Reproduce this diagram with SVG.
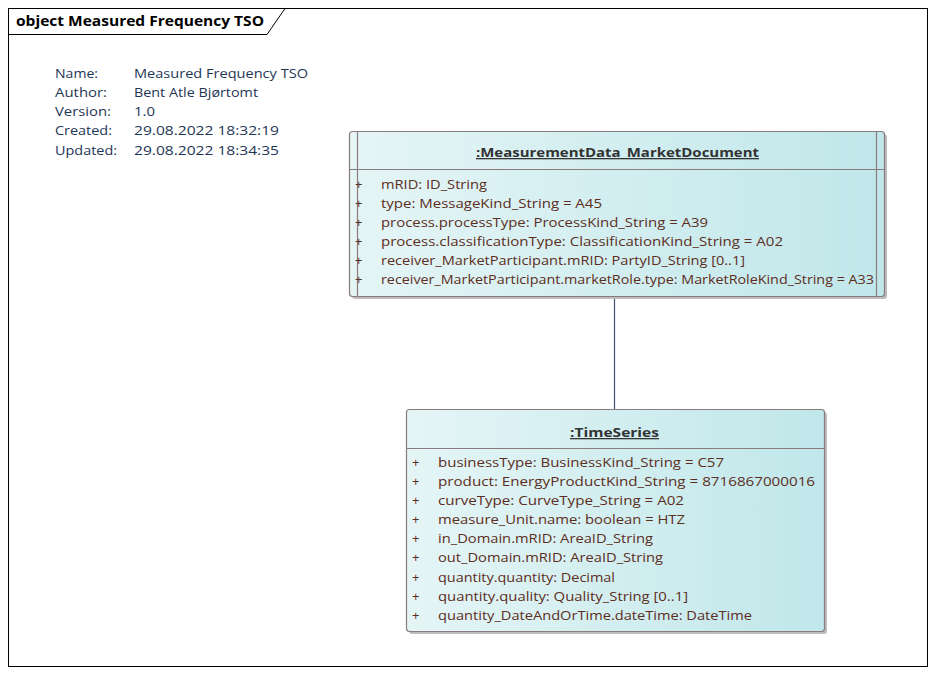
<svg xmlns="http://www.w3.org/2000/svg" width="936" height="675" viewBox="0 0 936 675">
<style>
text{font-family:"Open Sans","Noto Sans","DejaVu Sans",sans-serif;font-size:13px}
.meta{fill:#1e3656}
.hdr{font-weight:bold;fill:#333333;text-decoration:underline}
.attr{fill:#5c2e22}
.box{fill:url(#g);stroke:#8a7c7e;stroke-width:1.2}
.sep{stroke:#8a7c7e;stroke-width:1.2}
.shadow{fill:#bdbdbd}
</style>
<defs>
<linearGradient id="g" x1="0" y1="0" x2="1" y2="0">
<stop offset="0" stop-color="#e5f5f6"/>
<stop offset="1" stop-color="#c0e7ea"/>
</linearGradient>
</defs>
<rect x="0" y="0" width="936" height="675" fill="#ffffff"/>
<g id="frame">
<rect x="8.5" y="8.5" width="919" height="658" fill="none" stroke="#000000" stroke-width="1"/>
<path d="M8.5 34.5 H267 L285 8.5" fill="none" stroke="#000000" stroke-width="1"/>
<text x="16" y="26" textLength="248" lengthAdjust="spacingAndGlyphs" style="font-weight:bold;fill:#000000;font-size:14px">object Measured Frequency TSO</text>
</g>
<g id="metadata">
<text class="meta" x="55" y="78" textLength="43" lengthAdjust="spacingAndGlyphs">Name:</text>
<text class="meta" x="55" y="97" textLength="52" lengthAdjust="spacingAndGlyphs">Author:</text>
<text class="meta" x="55" y="116" textLength="56" lengthAdjust="spacingAndGlyphs">Version:</text>
<text class="meta" x="55" y="135" textLength="57" lengthAdjust="spacingAndGlyphs">Created:</text>
<text class="meta" x="55" y="155" textLength="62" lengthAdjust="spacingAndGlyphs">Updated:</text>
<text class="meta" x="134" y="78" textLength="174" lengthAdjust="spacingAndGlyphs">Measured Frequency TSO</text>
<text class="meta" x="134" y="97" textLength="124" lengthAdjust="spacingAndGlyphs">Bent Atle Bjørtomt</text>
<text class="meta" x="134" y="116" textLength="21" lengthAdjust="spacingAndGlyphs">1.0</text>
<text class="meta" x="134" y="135" textLength="145" lengthAdjust="spacingAndGlyphs">29.08.2022 18:32:19</text>
<text class="meta" x="134" y="155" textLength="145" lengthAdjust="spacingAndGlyphs">29.08.2022 18:34:35</text>
</g>
<g id="connectors">
<line x1="614.5" y1="296" x2="614.5" y2="409" stroke="#3f4f72" stroke-width="1.2"/>
</g>
<g id="MeasurementData_MarketDocument">
<rect class="shadow" x="352" y="134" width="535" height="165" rx="3"/>
<rect class="box" x="349.5" y="131.5" width="535" height="165" rx="3"/>
<line class="sep" x1="357.5" y1="131.5" x2="357.5" y2="296.5"/>
<line class="sep" x1="876.5" y1="131.5" x2="876.5" y2="296.5"/>
<line class="sep" x1="349.5" y1="169.5" x2="884.5" y2="169.5"/>
<text class="hdr" x="476" y="157" textLength="283" lengthAdjust="spacingAndGlyphs">:MeasurementData_MarketDocument</text>
<text class="attr" x="355" y="189">+</text>
<text class="attr" x="355" y="208">+</text>
<text class="attr" x="355" y="227">+</text>
<text class="attr" x="355" y="246">+</text>
<text class="attr" x="355" y="265">+</text>
<text class="attr" x="355" y="284">+</text>
<text class="attr" x="381" y="189" textLength="106" lengthAdjust="spacingAndGlyphs">mRID: ID_String</text>
<text class="attr" x="381" y="208" textLength="221" lengthAdjust="spacingAndGlyphs">type: MessageKind_String = A45</text>
<text class="attr" x="381" y="227" textLength="327" lengthAdjust="spacingAndGlyphs">process.processType: ProcessKind_String = A39</text>
<text class="attr" x="381" y="246" textLength="402" lengthAdjust="spacingAndGlyphs">process.classificationType: ClassificationKind_String = A02</text>
<text class="attr" x="381" y="265" textLength="364" lengthAdjust="spacingAndGlyphs">receiver_MarketParticipant.mRID: PartyID_String [0..1]</text>
<text class="attr" x="381" y="284" textLength="493" lengthAdjust="spacingAndGlyphs">receiver_MarketParticipant.marketRole.type: MarketRoleKind_String = A33</text>
</g>
<g id="TimeSeries">
<rect class="shadow" x="409" y="412" width="418" height="222" rx="3"/>
<rect class="box" x="406.5" y="409.5" width="418" height="222" rx="3"/>
<line class="sep" x1="406.5" y1="448.5" x2="824.5" y2="448.5"/>
<text class="hdr" x="570" y="437" textLength="89" lengthAdjust="spacingAndGlyphs">:TimeSeries</text>
<text class="attr" x="412" y="467">+</text>
<text class="attr" x="412" y="486">+</text>
<text class="attr" x="412" y="505">+</text>
<text class="attr" x="412" y="524">+</text>
<text class="attr" x="412" y="543">+</text>
<text class="attr" x="412" y="562">+</text>
<text class="attr" x="412" y="582">+</text>
<text class="attr" x="412" y="601">+</text>
<text class="attr" x="412" y="620">+</text>
<text class="attr" x="438" y="467" textLength="286" lengthAdjust="spacingAndGlyphs">businessType: BusinessKind_String = C57</text>
<text class="attr" x="438" y="486" textLength="377" lengthAdjust="spacingAndGlyphs">product: EnergyProductKind_String = 8716867000016</text>
<text class="attr" x="438" y="505" textLength="246" lengthAdjust="spacingAndGlyphs">curveType: CurveType_String = A02</text>
<text class="attr" x="438" y="524" textLength="247" lengthAdjust="spacingAndGlyphs">measure_Unit.name: boolean = HTZ</text>
<text class="attr" x="438" y="543" textLength="215" lengthAdjust="spacingAndGlyphs">in_Domain.mRID: AreaID_String</text>
<text class="attr" x="438" y="562" textLength="225" lengthAdjust="spacingAndGlyphs">out_Domain.mRID: AreaID_String</text>
<text class="attr" x="438" y="582" textLength="177" lengthAdjust="spacingAndGlyphs">quantity.quantity: Decimal</text>
<text class="attr" x="438" y="601" textLength="250" lengthAdjust="spacingAndGlyphs">quantity.quality: Quality_String [0..1]</text>
<text class="attr" x="438" y="620" textLength="314" lengthAdjust="spacingAndGlyphs">quantity_DateAndOrTime.dateTime: DateTime</text>
</g>
</svg>
